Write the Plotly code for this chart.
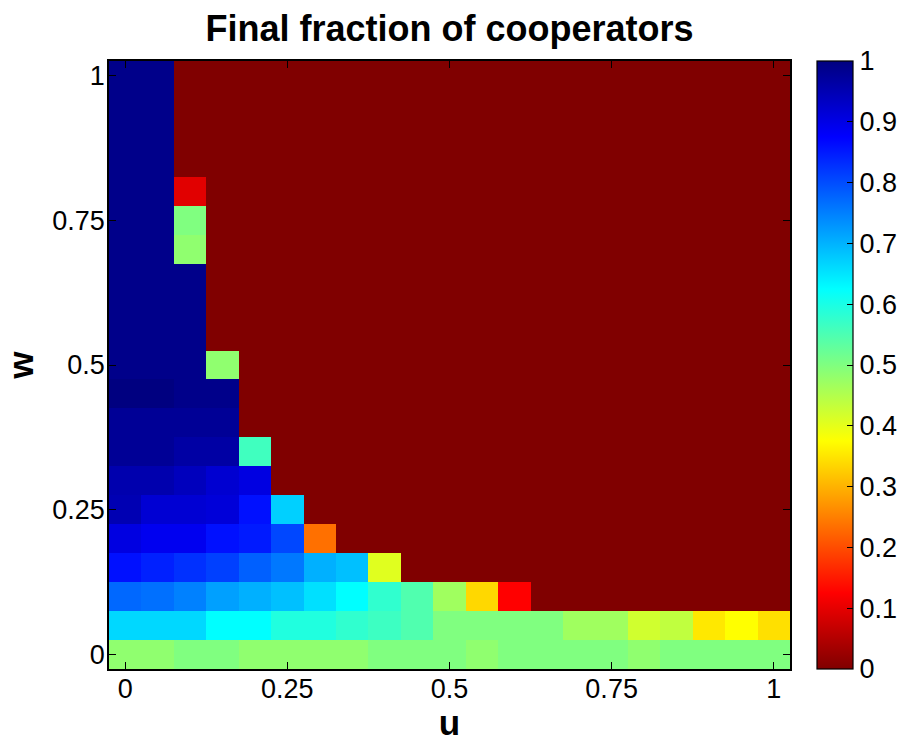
import plotly.graph_objects as go

# Grid of strategy parameters
u_vals = [0.0, 0.05, 0.1, 0.15, 0.2, 0.25, 0.3, 0.35, 0.4, 0.45, 0.5,
          0.55, 0.6, 0.65, 0.7, 0.75, 0.8, 0.85, 0.9, 0.95, 1.0]
w_vals = [0.0, 0.05, 0.1, 0.15, 0.2, 0.25, 0.3, 0.35, 0.4, 0.45, 0.5,
          0.55, 0.6, 0.65, 0.7, 0.75, 0.8, 0.85, 0.9, 0.95, 1.0]

# Final fraction of cooperators, one list per w value (columns follow u)
w_000 = [0.484, 0.484, 0.5, 0.5, 0.484, 0.484, 0.484, 0.484, 0.5, 0.5, 0.5,
         0.484, 0.5, 0.5, 0.5, 0.5, 0.484, 0.5, 0.5, 0.5, 0.5]
w_005 = [0.663, 0.663, 0.663, 0.625, 0.625, 0.594, 0.594, 0.578, 0.565, 0.547, 0.5,
         0.5, 0.5, 0.5, 0.468, 0.468, 0.421, 0.437, 0.352, 0.375, 0.345]
w_010 = [0.773, 0.765, 0.749, 0.718, 0.702, 0.687, 0.655, 0.625, 0.578, 0.547, 0.468,
         0.337, 0.125, 0, 0, 0, 0, 0, 0, 0, 0]
w_015 = [0.859, 0.844, 0.828, 0.812, 0.781, 0.757, 0.702, 0.687, 0.405, 0, 0,
         0, 0, 0, 0, 0, 0, 0, 0, 0, 0]
w_020 = [0.905, 0.89, 0.89, 0.859, 0.85, 0.805, 0.235, 0, 0, 0, 0,
         0, 0, 0, 0, 0, 0, 0, 0, 0, 0]
w_025 = [0.95, 0.918, 0.918, 0.912, 0.859, 0.671, 0, 0, 0, 0, 0,
         0, 0, 0, 0, 0, 0, 0, 0, 0, 0]
w_030 = [0.955, 0.955, 0.94, 0.92, 0.905, 0, 0, 0, 0, 0, 0,
         0, 0, 0, 0, 0, 0, 0, 0, 0, 0]
w_035 = [0.978, 0.978, 0.965, 0.965, 0.562, 0, 0, 0, 0, 0, 0,
         0, 0, 0, 0, 0, 0, 0, 0, 0, 0]
w_040 = [0.978, 0.978, 0.978, 0.978, 0, 0, 0, 0, 0, 0, 0,
         0, 0, 0, 0, 0, 0, 0, 0, 0, 0]
w_045 = [1.0, 1.0, 0.99, 0.99, 0, 0, 0, 0, 0, 0, 0,
         0, 0, 0, 0, 0, 0, 0, 0, 0, 0]
w_050 = [0.99, 0.99, 0.99, 0.484, 0, 0, 0, 0, 0, 0, 0,
         0, 0, 0, 0, 0, 0, 0, 0, 0, 0]
w_055 = [0.99, 0.99, 0.99, 0, 0, 0, 0, 0, 0, 0, 0,
         0, 0, 0, 0, 0, 0, 0, 0, 0, 0]
w_060 = [0.99, 0.99, 0.99, 0, 0, 0, 0, 0, 0, 0, 0,
         0, 0, 0, 0, 0, 0, 0, 0, 0, 0]
w_065 = [0.99, 0.99, 0.99, 0, 0, 0, 0, 0, 0, 0, 0,
         0, 0, 0, 0, 0, 0, 0, 0, 0, 0]
w_070 = [0.99, 0.99, 0.484, 0, 0, 0, 0, 0, 0, 0, 0,
         0, 0, 0, 0, 0, 0, 0, 0, 0, 0]
w_075 = [0.99, 0.99, 0.5, 0, 0, 0, 0, 0, 0, 0, 0,
         0, 0, 0, 0, 0, 0, 0, 0, 0, 0]
w_080 = [0.99, 0.99, 0.095, 0, 0, 0, 0, 0, 0, 0, 0,
         0, 0, 0, 0, 0, 0, 0, 0, 0, 0]
w_085 = [0.99, 0.99, 0, 0, 0, 0, 0, 0, 0, 0, 0,
         0, 0, 0, 0, 0, 0, 0, 0, 0, 0]
w_090 = [0.99, 0.99, 0, 0, 0, 0, 0, 0, 0, 0, 0,
         0, 0, 0, 0, 0, 0, 0, 0, 0, 0]
w_095 = [0.99, 0.99, 0, 0, 0, 0, 0, 0, 0, 0, 0,
         0, 0, 0, 0, 0, 0, 0, 0, 0, 0]
w_100 = [0.99, 0.99, 0, 0, 0, 0, 0, 0, 0, 0, 0,
         0, 0, 0, 0, 0, 0, 0, 0, 0, 0]

fraction = [w_000, w_005, w_010, w_015, w_020, w_025, w_030, w_035, w_040, w_045,
            w_050, w_055, w_060, w_065, w_070, w_075, w_080, w_085, w_090, w_095, w_100]

axis_ticks = [0, 0.25, 0.5, 0.75, 1]
axis_ticktext = ["0", "0.25", "0.5", "0.75", "1"]
cbar_ticks = [0, 0.1, 0.2, 0.3, 0.4, 0.5, 0.6, 0.7, 0.8, 0.9, 1]
cbar_ticktext = ["0", "0.1", "0.2", "0.3", "0.4", "0.5", "0.6", "0.7", "0.8", "0.9", "1"]

# Reversed jet: 1 -> dark blue, 0 -> dark red
jet_reversed = [
    [0.0, "#800000"],
    [0.125, "#ff0000"],
    [0.375, "#ffff00"],
    [0.625, "#00ffff"],
    [0.875, "#0000ff"],
    [1.0, "#000080"],
]

FONT = "Liberation Sans, Arial, Helvetica, sans-serif"

fig = go.Figure(
    go.Heatmap(
        x=u_vals,
        y=w_vals,
        z=fraction,
        zmin=0,
        zmax=1,
        colorscale=jet_reversed,
        colorbar=dict(
            x=1.0396,
            xanchor="left",
            xpad=0,
            y=0.5,
            yanchor="middle",
            ypad=0,
            len=1,
            lenmode="fraction",
            thickness=36,
            thicknessmode="pixels",
            outlinewidth=1.2,
            outlinecolor="black",
            tickmode="array",
            tickvals=cbar_ticks,
            ticktext=cbar_ticktext,
            ticks="inside",
            ticklen=6,
            tickwidth=1,
            tickcolor="black",
            tickfont=dict(family=FONT, size=27, color="black"),
        ),
    )
)

common_axis = dict(
    range=[-0.025, 1.025],
    tickmode="array",
    tickvals=axis_ticks,
    ticktext=axis_ticktext,
    ticks="inside",
    ticklen=7,
    tickwidth=1,
    tickcolor="black",
    showline=True,
    linecolor="black",
    linewidth=1.5,
    mirror="allticks",
    showgrid=False,
    zeroline=False,
    tickfont=dict(family=FONT, size=27, color="black"),
)

fig.update_xaxes(
    **common_axis,
    ticklabelstandoff=-5,
    title=dict(text="u", font=dict(family=FONT, size=35, color="black", weight="bold"), standoff=10),
)
fig.update_yaxes(
    **common_axis,
    ticklabelstandoff=-3,
    title=dict(text="w", font=dict(family=FONT, size=35, color="black", weight="bold"), standoff=8),
)

fig.update_layout(
    width=904,
    height=742,
    margin=dict(l=109, r=114, t=61, b=73, autoexpand=False),
    paper_bgcolor="white",
    plot_bgcolor="white",
    title=dict(
        text="Final fraction of cooperators",
        font=dict(family=FONT, size=36, color="black", weight="bold"),
        x=(109 + 790) / 2 / 904,
        xanchor="center",
        xref="container",
        y=1 - 28 / 742,
        yanchor="middle",
        yref="container",
    ),
)

fig.write_html("out.html")
